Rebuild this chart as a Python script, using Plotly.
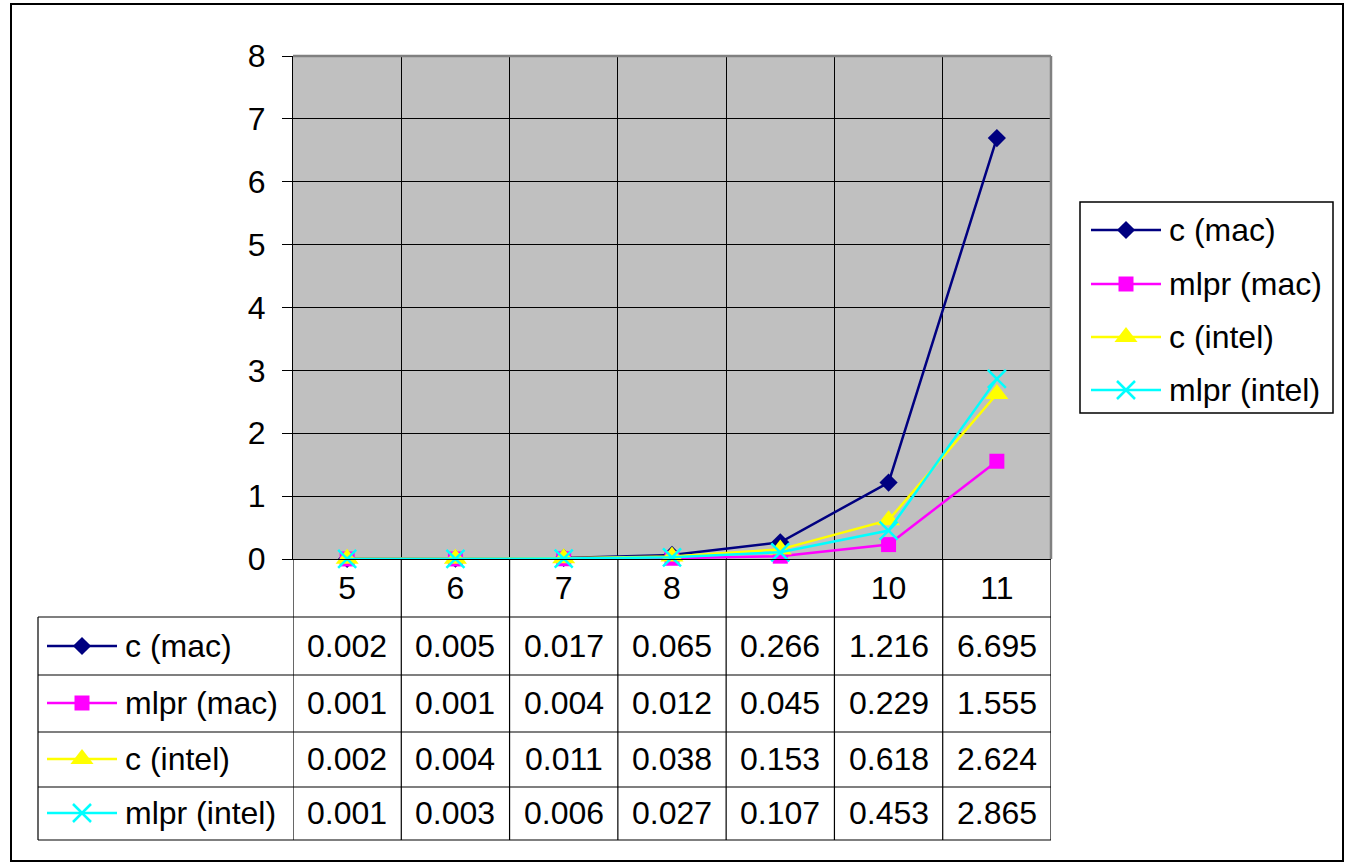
import plotly.graph_objects as go

# ---------------- data ----------------
categories = ["5", "6", "7", "8", "9", "10", "11"]
series_names = ["c (mac)", "mlpr (mac)", "c (intel)", "mlpr (intel)"]
c_mac = [0.002, 0.005, 0.017, 0.065, 0.266, 1.216, 6.695]
mlpr_mac = [0.001, 0.001, 0.004, 0.012, 0.045, 0.229, 1.555]
c_intel = [0.002, 0.004, 0.011, 0.038, 0.153, 0.618, 2.624]
mlpr_intel = [0.001, 0.003, 0.006, 0.027, 0.107, 0.453, 2.865]
y_ticks = [0, 1, 2, 3, 4, 5, 6, 7, 8]

series_values = [c_mac, mlpr_mac, c_intel, mlpr_intel]
colors = ["#000080", "#FF00FF", "#FFFF00", "#00FFFF"]
symbols = ["diamond", "square", "triangle-up", "x-thin"]
msizes = [14, 15, 20, 18]

W, H = 1346, 863
FONT = "Liberation Sans, Arial, sans-serif"
FS = 32


def px(x):
    return x / W


def py(y):
    return 1 - y / H


def make_marker(sym, size, col):
    m = dict(symbol=sym, size=size, color=col)
    if sym == "x-thin":
        m["line"] = dict(color=col, width=2.5)
    else:
        m["line"] = dict(width=0)
    return m


fig = go.Figure()

# ---------------- main series ----------------
for name, vals, col, sym, ms in zip(series_names, series_values, colors, symbols, msizes):
    fig.add_trace(go.Scatter(
        x=categories, y=vals, mode="lines+markers", name=name,
        line=dict(color=col, width=2.5), marker=make_marker(sym, ms, col),
        showlegend=False, cliponaxis=False, xaxis="x", yaxis="y",
    ))

# ---------------- glyphs for legend & table (pixel overlay axes) ----------------
legend_rows = [230, 284, 337, 390]
table_rows = [646, 703, 759, 813]
for i, (col, sym, ms) in enumerate(zip(colors, symbols, msizes)):
    for (x0, x1, ycen) in [(1091, 1161, legend_rows[i]), (47, 117, table_rows[i])]:
        fig.add_trace(go.Scatter(
            x=[x0, x1], y=[ycen, ycen], mode="lines",
            line=dict(color=col, width=2.5), showlegend=False,
            hoverinfo="skip", xaxis="x2", yaxis="y2",
        ))
        fig.add_trace(go.Scatter(
            x=[(x0 + x1) / 2], y=[ycen], mode="markers", marker=make_marker(sym, ms, col),
            showlegend=False, hoverinfo="skip", xaxis="x2", yaxis="y2",
        ))

shapes = []
# plot area background
shapes.append(dict(type="rect", xref="x domain", yref="y domain", x0=0, x1=1, y0=0, y1=1,
                   fillcolor="#C0C0C0", line=dict(width=0), layer="below"))
# top/right gray border of plot area
shapes.append(dict(type="line", xref="x domain", yref="y domain", x0=0, x1=1, y0=1, y1=1,
                   line=dict(color="#808080", width=2.5), layer="above"))
shapes.append(dict(type="line", xref="x domain", yref="y domain", x0=1, x1=1, y0=0, y1=1,
                   line=dict(color="#808080", width=2.5), layer="above"))

# table vertical lines at category boundaries
for i in range(len(categories) + 1):
    shapes.append(dict(type="line", xref="x", yref="paper", x0=i - 0.5, x1=i - 0.5,
                       y0=py(559), y1=py(840), line=dict(color="black", width=1.2)))
# left edge of the series-label column
shapes.append(dict(type="line", xref="paper", yref="paper", x0=px(38), x1=px(38),
                   y0=py(617), y1=py(840), line=dict(color="black", width=1.2)))
# table horizontal lines
for yy in [617, 675, 732, 787, 840]:
    shapes.append(dict(type="line", xref="paper", yref="paper", x0=px(38), x1=px(1051),
                       y0=py(yy), y1=py(yy), line=dict(color="black", width=1.2)))
# legend box
shapes.append(dict(type="rect", xref="paper", yref="paper", x0=px(1080), x1=px(1333),
                   y0=py(202), y1=py(413), line=dict(color="black", width=1.5)))
# outer chart border
shapes.append(dict(type="rect", xref="paper", yref="paper", x0=px(11), x1=px(1343),
                   y0=py(4), y1=py(861), line=dict(color="black", width=2)))

annotations = []
# legend labels
for name, yy in zip(series_names, legend_rows):
    annotations.append(dict(x=1167, y=yy, xref="x2", yref="y2", text=name, showarrow=False,
                            xanchor="left", yanchor="middle", font=dict(size=FS, color="black", family=FONT)))
# table labels and values
for name, vals, yy in zip(series_names, series_values, table_rows):
    annotations.append(dict(x=123, y=yy, xref="x2", yref="y2", text=name, showarrow=False,
                            xanchor="left", yanchor="middle", font=dict(size=FS, color="black", family=FONT)))
    for ci, v in enumerate(vals):
        annotations.append(dict(x=ci, y=py(yy), xref="x", yref="paper", text=f"{v:.3f}",
                                showarrow=False, xanchor="center", yanchor="middle",
                                font=dict(size=FS, color="black", family=FONT)))

fig.update_layout(
    width=W, height=H, autosize=False,
    margin=dict(l=0, r=0, t=0, b=0, pad=0, autoexpand=False),
    paper_bgcolor="white", plot_bgcolor="rgba(0,0,0,0)",
    font=dict(family=FONT, size=FS, color="black"),
    showlegend=False,
    xaxis=dict(
        type="category", categoryorder="array", categoryarray=categories,
        range=[-0.5, len(categories) - 0.5], domain=[px(293), px(1051)],
        tickson="boundaries", showgrid=True, gridcolor="black", gridwidth=1,
        showline=True, linecolor="black", linewidth=1.2, ticks="",
        tickfont=dict(size=FS, family=FONT, color="black"), ticklabelstandoff=0,
        zeroline=False, fixedrange=True, anchor="y", automargin=False,
    ),
    yaxis=dict(
        range=[0, 8], domain=[py(559), py(56)], tickvals=y_ticks,
        showgrid=True, gridcolor="black", gridwidth=1,
        showline=True, linecolor="black", linewidth=1.2,
        ticks="outside", ticklen=10, tickcolor="black", tickwidth=1,
        tickfont=dict(size=FS, family=FONT, color="black"), ticklabelstandoff=10,
        zeroline=False, fixedrange=True, anchor="x", automargin=False,
    ),
    xaxis2=dict(domain=[0, 1], range=[0, W], visible=False, anchor="y2", fixedrange=True, automargin=False),
    yaxis2=dict(domain=[0, 1], range=[H, 0], visible=False, anchor="x2", fixedrange=True, automargin=False),
    shapes=shapes,
    annotations=annotations,
)

# remove the page's default body margin so the figure sits at the window origin
post_js = (
    "document.body.style.margin='0';"
    "document.body.style.overflow='hidden';"
    "var g=document.getElementById('{plot_id}');"
    "g.style.position='absolute';g.style.left='0px';g.style.top='0px';"
)

fig.write_html("out.html", post_script=post_js, config={"displayModeBar": False})
